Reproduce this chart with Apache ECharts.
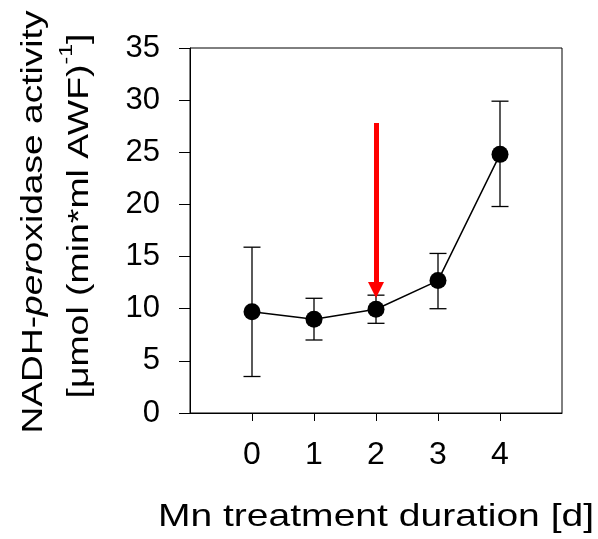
<!DOCTYPE html>
<html>
<head>
<meta charset="utf-8">
<script src="https://cdn.jsdelivr.net/npm/echarts@6/dist/echarts.min.js"></script>
<style>
  html, body { margin: 0; padding: 0; background: #fff; }
  #chart { width: 598px; height: 539px; }
</style>
</head>
<body>
<div id="chart"></div>
<script>
// Mn treatment duration (days) and NADH-peroxidase activity
var days = [0, 1, 2, 3, 4];
var means = [9.7, 9.0, 9.95, 12.7, 24.8];
var upper = [15.9, 11.0, 11.3, 15.3, 29.9];
var lower = [3.5, 7.0, 8.6, 10.0, 19.8];
var yTicks = [0, 5, 10, 15, 20, 25, 30, 35];

// red arrow at day 2 (start, end values)
var arrowDay = 2;
var arrowFrom = 27.8;
var arrowTo = 11.8;

var font = 'Liberation Sans, Arial, sans-serif';

var chart = echarts.init(document.getElementById('chart'));

var errData = days.map(function (d, i) {
    return [d, lower[i], upper[i]];
});

var option = {
    animation: false,
    grid: {
        left: 190,
        right: 36,
        top: 48,
        bottom: 126,
        show: true,
        borderColor: '#000',
        borderWidth: 1
    },
    xAxis: {
        type: 'value',
        min: -1,
        max: 5,
        interval: 1,
        splitLine: { show: false },
        axisLine: { onZero: false, lineStyle: { color: '#000', width: 1 } },
        axisTick: {
            customValues: days,
            length: 8,
            lineStyle: { color: '#000', width: 1 }
        },
        axisLabel: {
            customValues: days,
            margin: 26,
            fontSize: 32,
            fontFamily: font,
            color: '#000'
        }
    },
    yAxis: {
        type: 'value',
        min: 0,
        max: 35,
        interval: 5,
        splitLine: { show: false },
        axisLine: { show: true, onZero: false, lineStyle: { color: '#000', width: 1 } },
        axisTick: {
            customValues: yTicks,
            length: 11,
            lineStyle: { color: '#000', width: 1 }
        },
        axisLabel: {
            customValues: yTicks,
            margin: 30,
            fontSize: 31,
            fontFamily: font,
            color: '#000'
        }
    },
    graphic: [
        {
            type: 'text',
            x: 376,
            y: 517,
            scaleX: 1.22,
            style: {
                text: 'Mn treatment duration [d]',
                fontSize: 32,
                fontFamily: font,
                fill: '#000',
                align: 'center',
                verticalAlign: 'middle'
            }
        },
        {
            type: 'text',
            x: 34,
            y: 222,
            rotation: Math.PI / 2,
            scaleX: 1.28,
            style: {
                text: '{n|NADH-}{i|per}{n|oxidase activity}',
                fontSize: 29,
                fontFamily: font,
                fill: '#000',
                align: 'center',
                verticalAlign: 'middle',
                rich: {
                    n: { fontSize: 29, fontFamily: font, fill: '#000' },
                    i: { fontSize: 29, fontFamily: font, fontStyle: 'italic', fill: '#000' }
                }
            }
        },
        {
            type: 'text',
            x: 76,
            y: 216,
            rotation: Math.PI / 2,
            scaleX: 1.29,
            style: {
                text: '{n|[μmol (min*ml AWF)}{s|-1}{n|]}',
                fontSize: 29,
                fontFamily: font,
                fill: '#000',
                align: 'center',
                verticalAlign: 'middle',
                rich: {
                    n: { fontSize: 29, fontFamily: font, fill: '#000', lineHeight: 36, verticalAlign: 'bottom' },
                    s: { fontSize: 18, fontFamily: font, fill: '#000', lineHeight: 18, verticalAlign: 'top' }
                }
            }
        }
    ],
    series: [
        {
            type: 'custom',
            z: 2,
            data: errData,
            renderItem: function (params, api) {
                var lo = api.coord([api.value(0), api.value(1)]);
                var hi = api.coord([api.value(0), api.value(2)]);
                var w = 8.5;
                var st = { stroke: '#000', lineWidth: 1.3 };
                return {
                    type: 'group',
                    children: [
                        { type: 'line', shape: { x1: lo[0], y1: lo[1], x2: hi[0], y2: hi[1] }, style: st },
                        { type: 'line', shape: { x1: hi[0] - w, y1: hi[1], x2: hi[0] + w, y2: hi[1] }, style: st },
                        { type: 'line', shape: { x1: lo[0] - w, y1: lo[1], x2: lo[0] + w, y2: lo[1] }, style: st }
                    ]
                };
            }
        },
        {
            type: 'line',
            z: 3,
            data: days.map(function (d, i) { return [d, means[i]]; }),
            symbol: 'circle',
            symbolSize: 17,
            itemStyle: { color: '#000' },
            lineStyle: { color: '#000', width: 1.5 },
            markLine: {
                silent: true,
                symbol: ['none', 'triangle'],
                symbolSize: [16, 16],
                label: { show: false },
                lineStyle: { color: '#ff0000', width: 5, type: 'solid' },
                data: [
                    [
                        { coord: [arrowDay, arrowFrom] },
                        { coord: [arrowDay, arrowTo] }
                    ]
                ]
            }
        }
    ]
};

chart.setOption(option);
</script>
</body>
</html>
